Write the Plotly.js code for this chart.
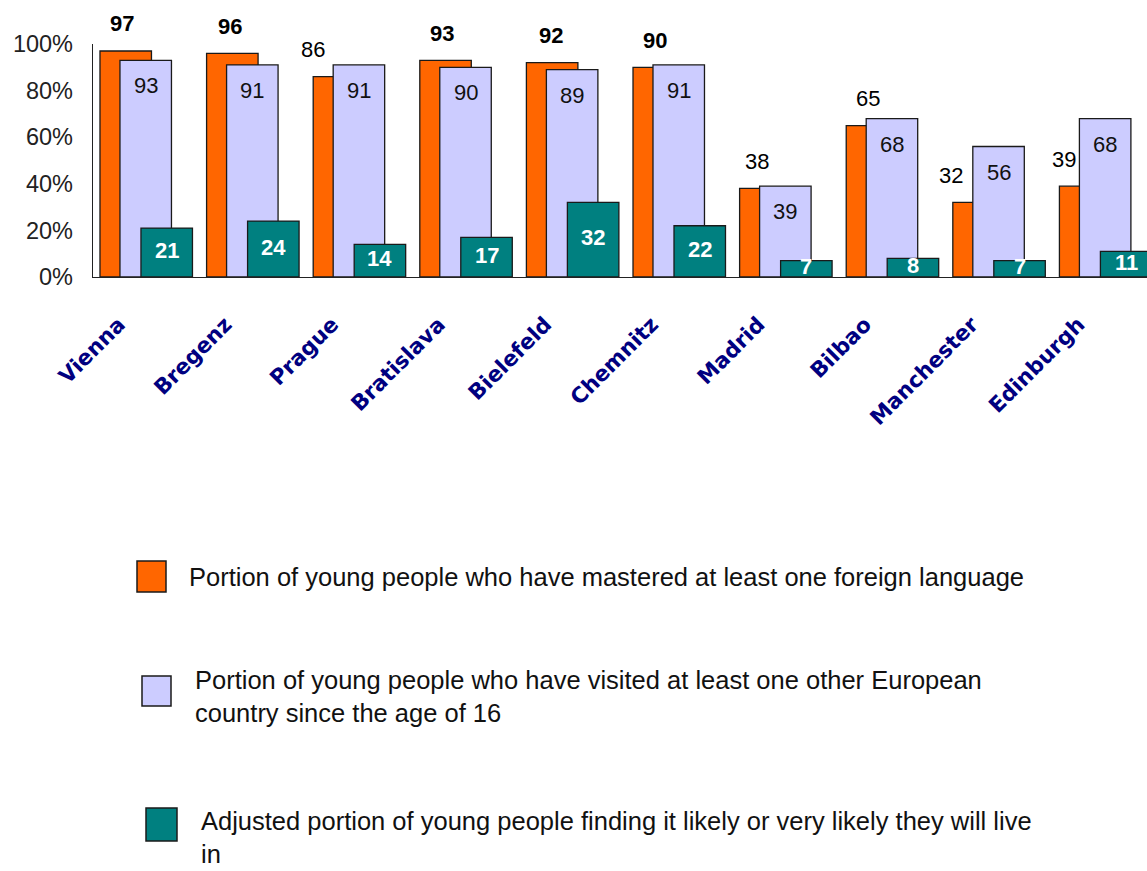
<!DOCTYPE html>
<html>
<head>
<meta charset="utf-8">
<script src="https://cdn.plot.ly/plotly-3.0.1.min.js"></script>
<style>
html,body{margin:0;padding:0;background:#fff;}
#chart{width:1147px;height:871px;}
</style>
</head>
<body>
<div id="chart"></div>
<script>
// ---------------- data ----------------
const cities = ['Vienna','Bregenz','Prague','Bratislava','Bielefeld','Chemnitz','Madrid','Bilbao','Manchester','Edinburgh'];
const mastered = [97, 96, 86, 93, 92, 90, 38, 65, 32, 39];
const visited = [93, 91, 91, 90, 89, 91, 39, 68, 56, 68];
const likelyLive = [21, 24, 14, 17, 32, 22, 7, 8, 7, 11];
const seriesNames = [
  'Portion of young people who have mastered at least one foreign language',
  'Portion of young people who have visited at least one other European<br>country since the age of 16',
  'Adjusted portion of young people finding it likely or very likely they will live<br>in'
];
const yTickVals = [0, 20, 40, 60, 80, 100];
const yTickText = ['0%', '20%', '40%', '60%', '80%', '100%'];

// ---------------- style / layout ----------------
const W = 1147, H = 871;
const mL = 93, mR = 0, mT = 44, mB = 594;
const xRange = [-0.497, 9.39];
const pxPerUnit = (W - mL - mR) / (xRange[1] - xRange[0]);
const barW = 0.483;
const offs = [-0.4315, -0.244, -0.047];
const colors = ['#FF6600', '#CCCCFF', '#008080'];
const orangeNudge = [-4, -2, -26, -4, -1, -4, -8, -4, -28, -21];
const orangeBold = [true, true, false, true, true, true, false, false, false, false];
const plotH = H - mT - mB;
const pxX = p => (p - mL) / (W - mL - mR);
const pxY = p => (H - mB - p) / plotH;

const series = [mastered, visited, likelyLive];
const traces = series.map((vals, k) => ({
  type: 'bar',
  x: cities,
  y: vals,
  name: seriesNames[k],
  width: barW,
  offset: offs[k],
  marker: {color: colors[k], line: {color: '#1a1a1a', width: 1.3}},
  showlegend: false,
  hoverinfo: 'none'
}));

const centerShift = k => (offs[k] + barW / 2) * pxPerUnit;
const annotations = [];
cities.forEach((c, i) => {
  annotations.push({
    x: c, y: mastered[i], xref: 'x', yref: 'y',
    text: String(mastered[i]), showarrow: false,
    xanchor: 'center', yanchor: 'middle',
    xshift: centerShift(0) + orangeNudge[i], yshift: 27,
    font: {family: 'Liberation Sans, Arial, sans-serif', size: 22, color: '#000',
           weight: orangeBold[i] ? 'bold' : 'normal'}
  });
  annotations.push({
    x: c, y: visited[i], xref: 'x', yref: 'y',
    text: String(visited[i]), showarrow: false,
    xanchor: 'center', yanchor: 'middle',
    xshift: centerShift(1), yshift: -25.5,
    font: {family: 'Liberation Sans, Arial, sans-serif', size: 22, color: '#111'}
  });
  annotations.push({
    x: c, y: likelyLive[i] / 2, xref: 'x', yref: 'y',
    text: '<b>' + likelyLive[i] + '</b>', showarrow: false,
    xanchor: 'center', yanchor: 'middle',
    xshift: centerShift(2), yshift: 2,
    font: {family: 'Liberation Sans, Arial, sans-serif', size: 22, color: '#fff'}
  });
});

// manual legend
const legendBoxes = [[137, 561, 166, 592], [142, 676, 171, 706], [146, 808, 177, 841]];
const legendText = [[187, 577, 'middle'], [193, 664, 'top'], [199, 870, 'bottom']];
const shapes = legendBoxes.map((b, k) => ({
  type: 'rect', xref: 'paper', yref: 'paper',
  x0: pxX(b[0]), x1: pxX(b[2]), y0: pxY(b[3]), y1: pxY(b[1]),
  fillcolor: colors[k], line: {color: '#1a1a1a', width: 1.5}
}));
legendText.forEach((t, k) => {
  annotations.push({
    x: pxX(t[0]), y: pxY(t[1]), xref: 'paper', yref: 'paper',
    text: seriesNames[k], showarrow: false, align: 'left',
    xanchor: 'left', yanchor: t[2],
    font: {family: 'Liberation Sans, Arial, sans-serif', size: 25.5, color: '#111'}
  });
});

const layout = {
  width: W, height: H,
  margin: {l: mL, r: mR, t: mT, b: mB, pad: 0},
  paper_bgcolor: '#fff', plot_bgcolor: '#fff',
  barmode: 'overlay',
  showlegend: false,
  xaxis: {
    type: 'category', range: xRange,
    showline: true, linecolor: '#222', linewidth: 1.3,
    ticks: '', showgrid: false, zeroline: false,
    tickangle: -45,
    tickfont: {family: 'DejaVu Sans, sans-serif', size: 21.5, color: '#000080', weight: 'bold'},
    ticklabelshift: -27, ticklabelstandoff: 25
  },
  yaxis: {
    range: [0, 100], tickvals: yTickVals, ticktext: yTickText,
    showline: true, linecolor: '#222', linewidth: 1.3,
    ticks: '', showgrid: false, zeroline: false,
    ticklabelstandoff: 14,
    tickfont: {family: 'Liberation Sans, Arial, sans-serif', size: 23.5, color: '#222'}
  },
  shapes: shapes,
  annotations: annotations,
  hovermode: false
};

Plotly.newPlot('chart', traces, layout, {staticPlot: true, displayModeBar: false});
</script>
</body>
</html>
